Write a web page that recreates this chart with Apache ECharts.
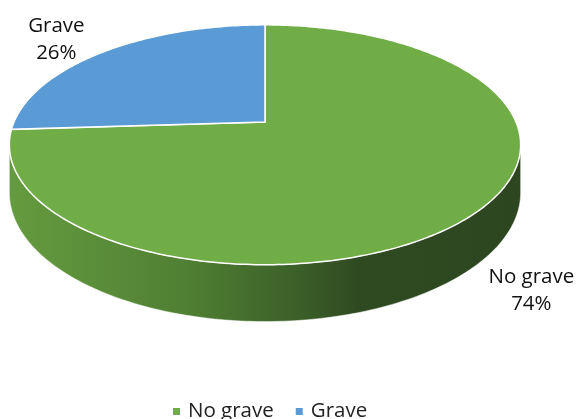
<!DOCTYPE html>
<html>
<head>
<meta charset="utf-8">
<script src="https://cdn.jsdelivr.net/npm/echarts@6/dist/echarts.min.js"></script>
<style>
  html, body { margin: 0; padding: 0; background: #fff; }
  #chart { width: 579px; height: 419px; }
</style>
</head>
<body>
<div id="chart"></div>
<script>
  "use strict";
  const categories = ["No grave", "Grave"];
  const values = [74, 26];
  const colors = ["#70ad47", "#5b9bd5"];

  // fake 3d: disk projected with a little perspective
  const CX = 265, CY = 122, A = 251, B = 115.6, C = 0.19, H = 46;
  const total = values.reduce((s, v) => s + v, 0);
  const deg = Math.PI / 180;

  function project(t, r, drop) {
    const x = r * Math.cos(t), z = r * Math.sin(t), w = 1 + C * z;
    return [CX + A * x / w, CY - B * z / w + (drop ? H / w : 0)];
  }
  function arc(t0, t1, drop) {
    const pts = [];
    const n = Math.max(2, Math.ceil(Math.abs(t1 - t0) / deg));
    for (let i = 0; i <= n; i++) pts.push(project(t0 + (t1 - t0) * i / n, 1, drop));
    return pts;
  }

  const sideFill = {
    type: "linear", x: 10, y: 0, x2: 522, y2: 0, global: true,
    colorStops: [
      { offset: 0, color: "#659b3f" },
      { offset: 0.35, color: "#4f7f33" },
      { offset: 0.57, color: "#3b5e28" },
      { offset: 0.68, color: "#2f4a21" },
      { offset: 1, color: "#2d4620" }
    ]
  };

  function makeRender(idx) {
    return function (params, api) {
      let cum = 0;
      for (let i = 0; i < idx; i++) cum += values[i];
      const v = api.value(0);
      const start = (90 - 360 * cum / total) * deg;
      const end = start - 360 * v / total * deg;
      const children = [];
      const silL = -Math.PI + Math.asin(C), silR = -Math.asin(C);
      const a = Math.max(end, silL), b = Math.min(start, silR);
      if (a < b) {
        children.push({
          type: "polygon",
          shape: { points: arc(b, a, false).concat(arc(a, b, true)) },
          style: { fill: sideFill, stroke: "rgba(255,255,255,0.6)", lineWidth: 0.8 }
        });
      }
      children.push({
        type: "polygon",
        shape: { points: [[CX, CY]].concat(arc(start, end, false)) },
        style: { fill: colors[idx], stroke: "#fff", lineWidth: 1.5 }
      });
      const mid = (start + end) / 2;
      const lp = project(mid, 1.22, Math.sin(mid) < 0);
      const left = Math.cos(mid) < 0;
      children.push({
        type: "text",
        style: {
          text: categories[idx] + "\n" + Math.round(v / total * 100) + "%",
          x: lp[0] + (left ? -16 : 1), y: lp[1] + (left ? 1 : -1),
          align: "center", verticalAlign: "middle",
          font: '20.5px "Open Sans"', lineHeight: 27, fill: "#111"
        }
      });
      return { type: "group", children: children };
    };
  }

  const chart = echarts.init(document.getElementById("chart"));
  chart.setOption({
    animation: false,
    legend: {
      data: categories,
      left: 168,
      top: 396,
      icon: "rect",
      itemWidth: 7,
      itemHeight: 7,
      itemGap: 22,
      textStyle: { fontSize: 20.5, fontFamily: "Open Sans", color: "#222", padding: [0, 0, 0, 3] }
    },
    series: categories.map((name, i) => ({
      type: "custom",
      name: name,
      coordinateSystem: "none",
      itemStyle: { color: colors[i] },
      renderItem: makeRender(i),
      data: [[values[i]]]
    }))
  });
</script>
</body>
</html>
